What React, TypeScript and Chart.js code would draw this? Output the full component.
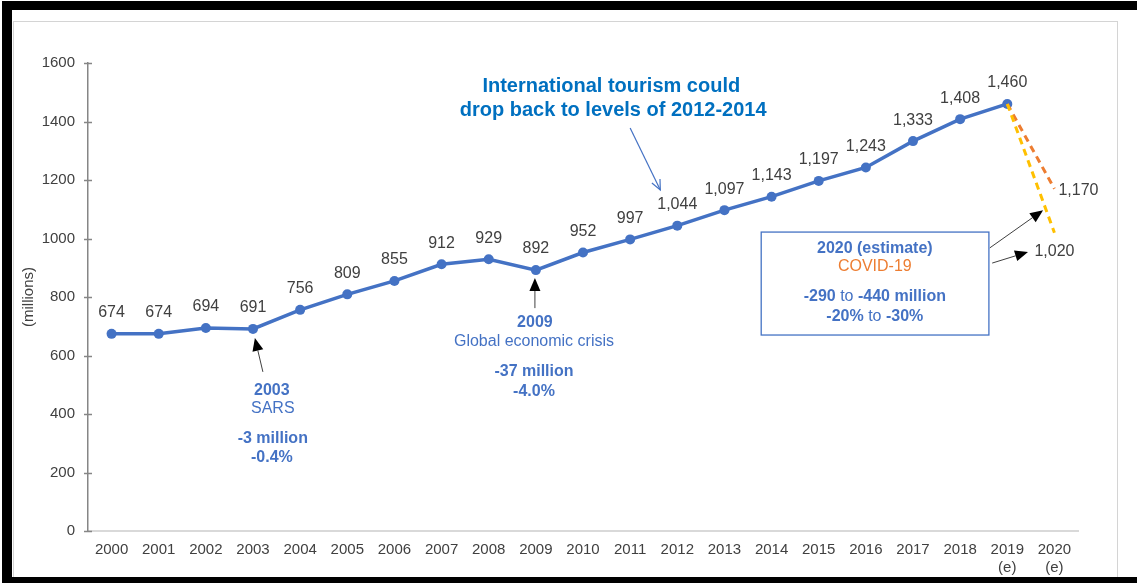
import React, { useEffect, useRef } from 'react';
import { Chart, registerables } from 'chart.js';

Chart.register(...registerables);

const years: (string | string[])[] = [
  '2000', '2001', '2002', '2003', '2004', '2005', '2006', '2007', '2008', '2009',
  '2010', '2011', '2012', '2013', '2014', '2015', '2016', '2017', '2018',
  ['2019', '(e)'], ['2020', '(e)'],
];
const arrivals: (number | null)[] = [
  674, 674, 694, 691, 756, 809, 855, 912, 929, 892,
  952, 997, 1044, 1097, 1143, 1197, 1243, 1333, 1408, 1460, null,
];
const scenarioHigh: (number | null)[] = [
  null, null, null, null, null, null, null, null, null, null,
  null, null, null, null, null, null, null, null, null, 1460, 1170,
];
const scenarioLow: (number | null)[] = [
  null, null, null, null, null, null, null, null, null, null,
  null, null, null, null, null, null, null, null, null, 1460, 1020,
];
const yMin = 0;
const yMax = 1600;
const yStep = 200;

const FONT = "'Liberation Sans', Arial, Helvetica, sans-serif";
const BLUE = '#4472C4';
const TITLE_BLUE = '#0070C0';
const ORANGE = '#ED7D31';
const YELLOW = '#FFC000';
const GREY_TEXT = '#404040';

type Seg = [string, string, string];

function richText(ctx: CanvasRenderingContext2D, segs: Seg[], cx: number, cy: number) {
  let total = 0;
  const widths: number[] = [];
  for (const [t, f] of segs) {
    ctx.font = f;
    const w = ctx.measureText(t).width;
    widths.push(w);
    total += w;
  }
  let x = cx - total / 2;
  ctx.textAlign = 'left';
  ctx.textBaseline = 'middle';
  segs.forEach(([t, f, c], i) => {
    ctx.font = f;
    ctx.fillStyle = c;
    ctx.fillText(t, x, cy);
    x += widths[i];
  });
}

function arrow(
  ctx: CanvasRenderingContext2D,
  x1: number, y1: number, x2: number, y2: number,
  color: string, width: number, filled: boolean, hl = 11, hw = 5,
) {
  const ang = Math.atan2(y2 - y1, x2 - x1);
  const bx = x2 - Math.cos(ang) * hl;
  const by = y2 - Math.sin(ang) * hl;
  ctx.save();
  ctx.strokeStyle = color;
  ctx.fillStyle = filled ? '#000000' : color;
  ctx.lineWidth = width;
  ctx.beginPath();
  ctx.moveTo(x1, y1);
  ctx.lineTo(filled ? bx : x2, filled ? by : y2);
  ctx.stroke();
  const px = -Math.sin(ang) * hw;
  const py = Math.cos(ang) * hw;
  ctx.beginPath();
  if (filled) {
    ctx.moveTo(x2, y2);
    ctx.lineTo(bx + px, by + py);
    ctx.lineTo(bx - px, by - py);
    ctx.closePath();
    ctx.fill();
  } else {
    ctx.moveTo(bx + px, by + py);
    ctx.lineTo(x2, y2);
    ctx.lineTo(bx - px, by - py);
    ctx.stroke();
  }
  ctx.restore();
}

const framePlugin = {
  id: 'frame',
  beforeDraw(chart: any) {
    const { ctx, width, height } = chart;
    ctx.save();
    ctx.fillStyle = '#ffffff';
    ctx.fillRect(0, 0, width, height);
    ctx.restore();
  },
  afterDraw(chart: any) {
    const { ctx, width, height } = chart;
    ctx.save();
    ctx.strokeStyle = '#D4D4D4';
    ctx.lineWidth = 1;
    ctx.strokeRect(13.5, 21.5, 1104, height);
    ctx.fillStyle = '#000000';
    ctx.fillRect(2, 1, width - 2, 9);
    ctx.fillRect(2, 1, 10, height - 1);
    ctx.fillRect(2, height - 6, width - 2, 6);
    ctx.restore();
  },
};

const annotationPlugin = {
  id: 'annotations',
  afterDatasetsDraw(chart: any) {
    const { ctx, chartArea } = chart;
    const xs = chart.scales.x;
    const ys = chart.scales.y;
    const X = (i: number) => {
      const a = xs.getPixelForValue(0);
      const b = xs.getPixelForValue(1);
      return a + (b - a) * i;
    };
    const Y = (v: number) => ys.getPixelForValue(v);

    ctx.save();
    // y-axis tick marks crossing the axis
    ctx.strokeStyle = '#868686';
    ctx.lineWidth = 1.5;
    for (let v = yMin; v <= yMax; v += yStep) {
      const y = Math.round(Y(v)) + 0.5;
      ctx.beginPath();
      ctx.moveTo(chartArea.left - 4, y);
      ctx.lineTo(chartArea.left + 4, y);
      ctx.stroke();
    }

    // data labels
    ctx.font = `16px ${FONT}`;
    ctx.fillStyle = GREY_TEXT;
    ctx.textAlign = 'center';
    ctx.textBaseline = 'middle';
    arrivals.forEach((v, i) => {
      if (v == null) return;
      ctx.fillText(v.toLocaleString('en-US'), X(i), Y(v) - 21);
    });
    const hi = scenarioHigh[20] as number;
    const lo = scenarioLow[20] as number;
    ctx.textAlign = 'left';
    ctx.fillText(hi.toLocaleString('en-US'), X(20) + 4, Y(hi) + 2);
    ctx.textAlign = 'center';
    ctx.fillText(lo.toLocaleString('en-US'), X(20), Y(lo) + 19);

    // headline
    ctx.font = `bold 20px ${FONT}`;
    ctx.fillStyle = TITLE_BLUE;
    ctx.fillText('International tourism could', X(10.6), Y(1521));
    ctx.fillText('drop back to levels of 2012-2014', X(10.64), Y(1436));
    arrow(ctx, X(11.0), Y(1378), X(11.64), Y(1166), BLUE, 1.2, false, 10, 4.5);

    // SARS
    arrow(ctx, X(3.21), Y(544), X(3.04), Y(660), '#404040', 1, true, 13, 5.5);
    const bold16 = `bold 16px ${FONT}`;
    const reg16 = `16px ${FONT}`;
    richText(ctx, [['2003', bold16, BLUE]], X(3.4), Y(479));
    richText(ctx, [['SARS', reg16, BLUE]], X(3.42), Y(417));
    richText(ctx, [['-3 million', bold16, BLUE]], X(3.42), Y(315));
    richText(ctx, [['-0.4%', bold16, BLUE]], X(3.4), Y(250));

    // 2009
    arrow(ctx, X(8.98), Y(762), X(8.98), Y(865), '#404040', 1, true, 13, 5.5);
    richText(ctx, [['2009', bold16, BLUE]], X(8.98), Y(711));
    richText(ctx, [['Global economic crisis', reg16, BLUE]], X(8.96), Y(647));
    richText(ctx, [['-37 million', bold16, BLUE]], X(8.96), Y(545));
    richText(ctx, [['-4.0%', bold16, BLUE]], X(8.96), Y(476));

    // 2020 box
    const bx1 = X(13.78), bx2 = X(18.61), by1 = Y(1022), by2 = Y(670);
    ctx.strokeStyle = BLUE;
    ctx.lineWidth = 1.3;
    ctx.strokeRect(bx1, by1, bx2 - bx1, by2 - by1);
    const cx = X(16.19);
    richText(ctx, [['2020 (estimate)', bold16, BLUE]], cx, Y(964));
    richText(ctx, [['COVID-19', reg16, ORANGE]], cx, Y(903));
    richText(ctx, [['-290', bold16, BLUE], [' to ', reg16, BLUE], ['-440 million', bold16, BLUE]], cx, Y(800));
    richText(ctx, [['-20%', bold16, BLUE], [' to ', reg16, BLUE], ['-30%', bold16, BLUE]], cx, Y(732));
    arrow(ctx, X(18.63), Y(968), X(19.76), Y(1097), '#404040', 1, true, 13, 5.5);
    arrow(ctx, X(18.68), Y(916), X(19.44), Y(954), '#404040', 1, true, 13, 5.5);

    ctx.restore();
  },
};

export default function App() {
  const ref = useRef<HTMLCanvasElement | null>(null);

  useEffect(() => {
    if (!ref.current) return;
    const chart = new Chart(ref.current, {
      type: 'line',
      data: {
        labels: years,
        datasets: [
          {
            label: 'International tourist arrivals',
            data: arrivals,
            borderColor: BLUE,
            backgroundColor: BLUE,
            borderWidth: 3.5,
            pointRadius: 5,
            pointBackgroundColor: BLUE,
            pointBorderWidth: 0,
            tension: 0,
            order: 2,
          },
          {
            label: 'Scenario -20%',
            data: scenarioHigh,
            borderColor: ORANGE,
            borderWidth: 3,
            borderDash: [7, 5],
            pointRadius: 0,
            tension: 0,
            order: 1,
          },
          {
            label: 'Scenario -30%',
            data: scenarioLow,
            borderColor: YELLOW,
            borderWidth: 3,
            borderDash: [7, 5],
            pointRadius: 0,
            tension: 0,
            order: 0,
          },
        ],
      },
      options: {
        animation: false,
        responsive: false,
        devicePixelRatio: 1,
        layout: { padding: { left: 14, right: 59, top: 63, bottom: 0 } },
        plugins: {
          legend: { display: false },
          tooltip: { enabled: false },
          title: { display: false },
        },
        scales: {
          x: {
            type: 'category',
            offset: true,
            grid: { display: false, drawTicks: false },
            border: { display: true, color: '#D9D9D9', width: 2 },
            ticks: {
              color: GREY_TEXT,
              font: { family: FONT, size: 15 },
              padding: 10,
              maxRotation: 0,
              autoSkip: false,
            },
            afterFit: (s: any) => { s.height = 52; },
          },
          y: {
            min: yMin,
            max: yMax,
            grid: { display: false, drawTicks: false },
            border: { display: true, color: '#868686', width: 1.5 },
            ticks: {
              stepSize: yStep,
              color: GREY_TEXT,
              font: { family: FONT, size: 15 },
              padding: 13,
              callback: (v: any) => String(v),
            },
            title: {
              display: true,
              text: '(millions)',
              color: GREY_TEXT,
              font: { family: FONT, size: 15 },
              padding: { top: 6, bottom: 0 },
            },
            afterFit: (s: any) => { s.width = 74; },
          },
        },
      },
      plugins: [framePlugin, annotationPlugin],
    });
    return () => chart.destroy();
  }, []);

  return (
    <div style={{ position: 'fixed', left: 0, top: 0, width: 1137, height: 583, background: '#fff' }}>
      <canvas ref={ref} width={1137} height={583} style={{ display: 'block', width: 1137, height: 583 }} />
    </div>
  );
}
